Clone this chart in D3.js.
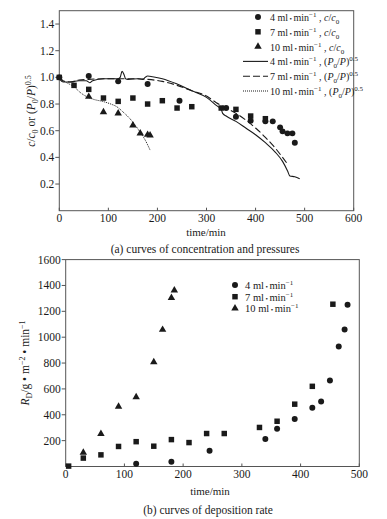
<!DOCTYPE html>
<html>
<head>
<meta charset="utf-8">
<script src="https://cdn.jsdelivr.net/npm/d3@7/dist/d3.min.js"></script>
<style>
  html, body { margin: 0; padding: 0; background: #fff; }
  svg { display: block; }
  svg text { font-family: "Liberation Serif", "Times New Roman", "DejaVu Serif", serif; }
</style>
</head>
<body>
<svg id="fig" width="387" height="519"></svg>
<script>
// (a) c/c0 measured points [time(min), value]
const cc4 = [[0,1.0],[60,1.01],[120,0.97],[180,0.95],[245,0.825],[340,0.77],[360,0.705],[390,0.675],[420,0.67],[435,0.67],[450,0.625],[455,0.595],[465,0.58],[475,0.58],[480,0.51]];
const cc7 = [[0,1.0],[30,0.94],[60,0.91],[90,0.845],[120,0.82],[150,0.845],[180,0.80],[210,0.825],[240,0.77],[270,0.78],[330,0.77],[360,0.76],[390,0.71],[420,0.69]];
const cc10 = [[60,0.855],[90,0.74],[120,0.73],[150,0.64],[165,0.58],[180,0.57],[185,0.565]];

// (a) (P0/P)^0.5 curves
const pp4 = [[0,0.99],[8,0.965],[20,0.965],[40,0.975],[55,0.975],[62,0.96],[68,0.975],[90,0.99],[120,0.99],[124,1.0],[128,1.045],[132,1.02],[135,0.99],[140,0.985],[160,0.99],[170,0.985],[175,1.0],[180,1.01],[190,1.005],[210,0.99],[240,0.95],[270,0.9],[300,0.85],[320,0.79],[330,0.76],[333,0.73],[340,0.71],[360,0.67],[380,0.62],[400,0.57],[420,0.51],[440,0.44],[455,0.37],[465,0.3],[470,0.26],[480,0.255],[490,0.24]];
const pp7 = [[0,1.0],[10,0.97],[25,0.965],[40,0.98],[60,0.985],[100,0.99],[150,0.99],[180,0.985],[210,0.97],[240,0.94],[270,0.9],[300,0.86],[320,0.81],[340,0.77],[360,0.73],[380,0.68],[400,0.62],[420,0.55],[440,0.47],[455,0.4],[465,0.35]];
const pp10 = [[0,1.0],[15,0.96],[28,0.935],[45,0.88],[56,0.855],[70,0.835],[90,0.818],[105,0.8],[117,0.78],[130,0.74],[144,0.69],[155,0.64],[164,0.593],[175,0.53],[185,0.455]];

// (b) deposition rate R_D
const rd4 = [[120,22],[180,37],[245,122],[340,212],[360,292],[390,367],[420,455],[435,503],[450,665],[465,928],[475,1060],[480,1250]];
const rd7 = [[5,3],[30,65],[60,90],[90,155],[120,192],[150,157],[180,208],[210,185],[240,255],[270,255],[330,302],[360,350],[390,482],[420,620],[455,1255]];
const rd10 = [[30,108],[60,252],[90,463],[120,537],[150,808],[165,1058],[180,1305],[185,1362]];

// ticks
const xTicksA = [0,100,200,300,400,500,600];
const yTicksA = [0.2,0.4,0.6,0.8,1.0,1.2,1.4];
const xTicksB = [0,100,200,300,400,500];
const yTicksB = [200,400,600,800,1000,1200,1400,1600];

const svg = d3.select("#fig");
const ink = "#1a1a1a";
const frame = "#555";

const symCircle = d3.symbol().type(d3.symbolCircle).size(28);
const symSquare = d3.symbol().type(d3.symbolSquare).size(30);
const symTri = d3.symbol().type(d3.symbolTriangle).size(24);

function panel(cfg) {
  const { x, y, xTicks, yTicks, yFmt } = cfg;
  const g = svg.append("g");
  const [x0, x1] = x.range();
  const [y0, y1] = y.range();

  // frame
  g.append("rect")
    .attr("x", x0).attr("y", y1)
    .attr("width", x1 - x0).attr("height", y0 - y1)
    .attr("fill", "none").attr("stroke", frame).attr("stroke-width", 1);

  // x ticks (inside)
  g.selectAll(".xt").data(xTicks).enter().append("line")
    .attr("x1", d => x(d)).attr("x2", d => x(d))
    .attr("y1", y0).attr("y2", y0 - 3)
    .attr("stroke", frame);
  g.selectAll(".xl").data(xTicks).enter().append("text")
    .attr("x", d => x(d)).attr("y", y0 + 11)
    .attr("text-anchor", "middle").attr("font-size", 11.5).attr("fill", ink)
    .text(d => d);

  // y ticks (outside)
  g.selectAll(".yt").data(yTicks).enter().append("line")
    .attr("x1", x0 - 4).attr("x2", x0)
    .attr("y1", d => y(d)).attr("y2", d => y(d))
    .attr("stroke", frame);
  g.selectAll(".yl").data(yTicks).enter().append("text")
    .attr("x", x0 - 5).attr("y", d => y(d) + 4)
    .attr("text-anchor", "end").attr("font-size", 11.5).attr("fill", ink)
    .text(yFmt);
  return g;
}

function points(g, x, y, data, sym) {
  g.selectAll(null).data(data).enter().append("path")
    .attr("d", sym)
    .attr("transform", d => `translate(${x(d[0])},${y(d[1])})`)
    .attr("fill", ink);
}

// ---------- (a) ----------
const xA = d3.scaleLinear().domain([0, 600]).range([59.3, 353.7]);
const yA = d3.scaleLinear().domain([0, 1.5]).range([210.7, 10.7]);
const gA = panel({ x: xA, y: yA, xTicks: xTicksA, yTicks: yTicksA, yFmt: d => d.toFixed(1) });

const line = d3.line().x(d => xA(d[0])).y(d => yA(d[1])).curve(d3.curveMonotoneX);
gA.append("path").datum(pp4).attr("d", line)
  .attr("fill", "none").attr("stroke", ink).attr("stroke-width", 1.1);
gA.append("path").datum(pp7).attr("d", line)
  .attr("fill", "none").attr("stroke", ink).attr("stroke-width", 1.1).attr("stroke-dasharray", "7,3");
gA.append("path").datum(pp10).attr("d", line)
  .attr("fill", "none").attr("stroke", ink).attr("stroke-width", 1).attr("stroke-dasharray", "1,1");

points(gA, xA, yA, cc4, symCircle);
points(gA, xA, yA, cc7, symSquare);
points(gA, xA, yA, cc10, symTri);

// "4 ml • min^-1"
function rateText(t, rate) {
  t.append("tspan").text(rate + " ml");
  t.append("tspan").text("•").attr("font-size", 7).attr("dx", 1.5);
  t.append("tspan").text("min").attr("dx", 1.5);
  t.append("tspan").text("−1").attr("font-size", 7).attr("dy", -4);
}

const legA = gA.append("g").attr("font-size", 10).attr("fill", ink);
const legRowsA = [
  { rate: 4, kind: "pt", sym: symCircle },
  { rate: 7, kind: "pt", sym: symSquare },
  { rate: 10, kind: "pt", sym: symTri },
  { rate: 4, kind: "ln", dash: null },
  { rate: 7, kind: "ln", dash: "7,3" },
  { rate: 10, kind: "ln", dash: "1,1" }
];
legRowsA.forEach((r, i) => {
  const cy = 17 + i * 14.8;
  if (r.kind === "pt") {
    legA.append("path").attr("d", r.sym).attr("transform", `translate(258,${cy})`).attr("fill", ink);
  } else {
    legA.append("line").attr("x1", 243).attr("x2", 268).attr("y1", cy).attr("y2", cy)
      .attr("stroke", ink).attr("stroke-width", 1.1).attr("stroke-dasharray", r.dash);
  }
  const t = legA.append("text").attr("x", 270).attr("y", cy + 4);
  rateText(t, r.rate);
  t.append("tspan").text(" , ").attr("dy", 4);
  if (r.kind === "pt") {
    t.append("tspan").text("c").attr("font-style", "italic");
    t.append("tspan").text("/");
    t.append("tspan").text("c").attr("font-style", "italic");
    t.append("tspan").text("0").attr("font-size", 7).attr("dy", 3);
  } else {
    t.append("tspan").text("(");
    t.append("tspan").text("P").attr("font-style", "italic");
    t.append("tspan").text("0").attr("font-size", 7).attr("dy", 3);
    t.append("tspan").text("/").attr("dy", -3);
    t.append("tspan").text("P").attr("font-style", "italic");
    t.append("tspan").text(")");
    t.append("tspan").text("0.5").attr("font-size", 7).attr("dy", -4);
  }
});

// axis titles (a)
svg.append("text").attr("x", 206).attr("y", 236).attr("text-anchor", "middle")
  .attr("font-size", 11).attr("fill", ink).text("time/min");
svg.append("text").attr("x", 205).attr("y", 253).attr("text-anchor", "middle")
  .attr("font-size", 11.5).attr("fill", ink).text("(a) curves of concentration and pressures");

const ylA = svg.append("text").attr("transform", "translate(35,111) rotate(-90)")
  .attr("text-anchor", "middle").attr("font-size", 11.5).attr("fill", ink);
ylA.append("tspan").text("c").attr("font-style", "italic");
ylA.append("tspan").text("/");
ylA.append("tspan").text("c").attr("font-style", "italic");
ylA.append("tspan").text("0").attr("font-size", 8).attr("dy", 3);
ylA.append("tspan").text(" or (").attr("dy", -3);
ylA.append("tspan").text("P").attr("font-style", "italic");
ylA.append("tspan").text("0").attr("font-size", 8).attr("dy", 3);
ylA.append("tspan").text("/").attr("dy", -3);
ylA.append("tspan").text("P").attr("font-style", "italic");
ylA.append("tspan").text(")");
ylA.append("tspan").text("0.5").attr("font-size", 8).attr("dy", -4);

// ---------- (b) ----------
const xB = d3.scaleLinear().domain([0, 500]).range([65.7, 359.3]);
const yB = d3.scaleLinear().domain([0, 1600]).range([466.5, 259.6]);
const gB = panel({ x: xB, y: yB, xTicks: xTicksB, yTicks: yTicksB, yFmt: d => d });

points(gB, xB, yB, rd4, symCircle);
points(gB, xB, yB, rd7, symSquare);
points(gB, xB, yB, rd10, symTri);

const legB = gB.append("g").attr("font-size", 10.5).attr("fill", ink);
[[4, symCircle], [7, symSquare], [10, symTri]].forEach((r, i) => {
  const cy = 285 + i * 11.7;
  legB.append("path").attr("d", r[1]).attr("transform", `translate(235,${cy})`).attr("fill", ink);
  const t = legB.append("text").attr("x", 245).attr("y", cy + 4);
  rateText(t, r[0]);
});

svg.append("text").attr("x", 210).attr("y", 495).attr("text-anchor", "middle")
  .attr("font-size", 11).attr("fill", ink).text("time/min");
svg.append("text").attr("x", 208).attr("y", 514).attr("text-anchor", "middle")
  .attr("font-size", 11.5).attr("fill", ink).text("(b) curves of deposition rate");

const ylB = svg.append("text").attr("transform", "translate(29,363) rotate(-90)")
  .attr("text-anchor", "middle").attr("font-size", 11.5).attr("fill", ink);
ylB.append("tspan").text("R").attr("font-style", "italic");
ylB.append("tspan").text("D").attr("font-size", 8).attr("dy", 3);
ylB.append("tspan").text("/g • m").attr("dy", -3);
ylB.append("tspan").text("−2").attr("font-size", 8).attr("dy", -4);
ylB.append("tspan").text(" • min").attr("dy", 4);
ylB.append("tspan").text("−1").attr("font-size", 8).attr("dy", -4);
</script>
</body>
</html>
